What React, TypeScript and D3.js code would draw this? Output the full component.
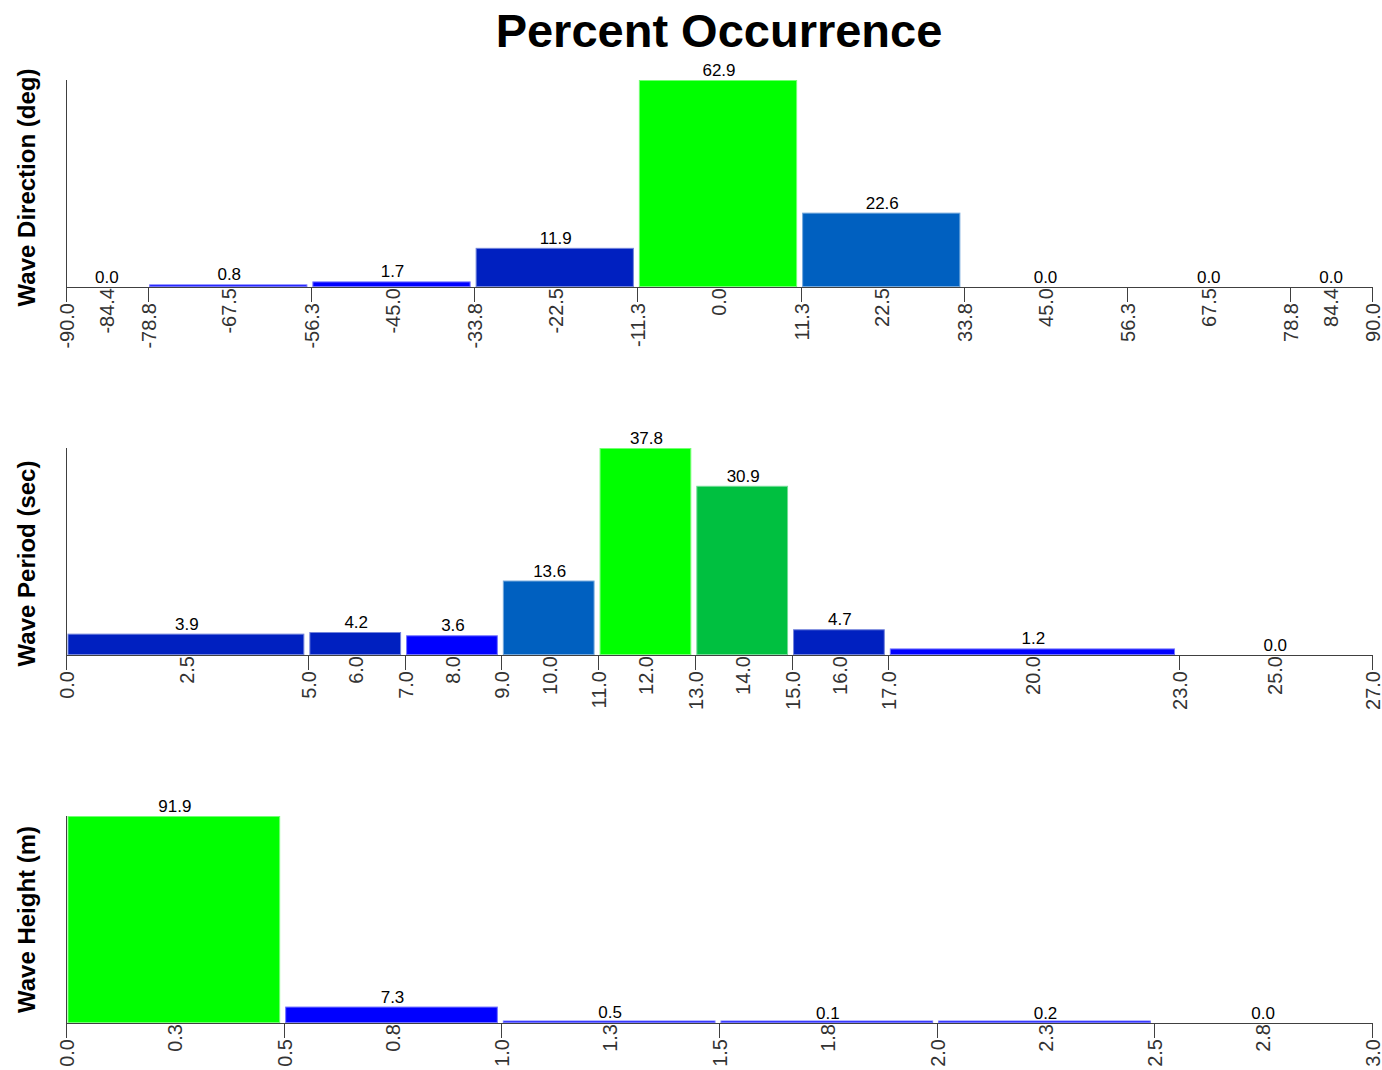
import React from "react";
import * as d3 from "d3";

// ---------- data ----------
const dirEdges = [-90, -78.75, -56.25, -33.75, -11.25, 11.25, 33.75, 56.25, 78.75, 90];
const dirEdgeLabels = ["-90.0", "-78.8", "-56.3", "-33.8", "-11.3", "11.3", "33.8", "56.3", "78.8", "90.0"];
const dirCenterLabels = ["-84.4", "-67.5", "-45.0", "-22.5", "0.0", "22.5", "45.0", "67.5", "84.4"];
const dirValues = [0.0, 0.8, 1.7, 11.9, 62.9, 22.6, 0.0, 0.0, 0.0];

const perEdges = [0, 5, 7, 9, 11, 13, 15, 17, 23, 27];
const perEdgeLabels = ["0.0", "5.0", "7.0", "9.0", "11.0", "13.0", "15.0", "17.0", "23.0", "27.0"];
const perCenterLabels = ["2.5", "6.0", "8.0", "10.0", "12.0", "14.0", "16.0", "20.0", "25.0"];
const perValues = [3.9, 4.2, 3.6, 13.6, 37.8, 30.9, 4.7, 1.2, 0.0];

const hgtEdges = [0, 0.5, 1.0, 1.5, 2.0, 2.5, 3.0];
const hgtEdgeLabels = ["0.0", "0.5", "1.0", "1.5", "2.0", "2.5", "3.0"];
const hgtCenterLabels = ["0.3", "0.8", "1.3", "1.8", "2.3", "2.8"];
const hgtValues = [91.9, 7.3, 0.5, 0.1, 0.2, 0.0];

const titleText = "Percent Occurrence";
const axisTitles = ["Wave Direction (deg)", "Wave Period (sec)", "Wave Height (m)"];

// colour by share of panel maximum
const colorThresholds = [0.1, 0.3, 0.6, 0.95];
const colorRange = ["#0000FF", "#0020C0", "#0060C0", "#00C040", "#00FF00"];

// ---------- layout ----------
const W = 1382;
const H = 1070;
const X0 = 66;
const X1 = 1372;
const PLOT_H = 207;
const panels = [
  { edges: dirEdges, edgeLabels: dirEdgeLabels, centerLabels: dirCenterLabels, values: dirValues, base: 287, title: axisTitles[0], titleDy: 4 },
  { edges: perEdges, edgeLabels: perEdgeLabels, centerLabels: perCenterLabels, values: perValues, base: 655, title: axisTitles[1], titleDy: 12 },
  { edges: hgtEdges, edgeLabels: hgtEdgeLabels, centerLabels: hgtCenterLabels, values: hgtValues, base: 1023, title: axisTitles[2], titleDy: 0 },
];

const FONT = "Arial, 'Liberation Sans', Helvetica, sans-serif";

function Panel({ p }: { p: (typeof panels)[number] }) {
  const x = d3.scaleLinear().domain([p.edges[0], p.edges[p.edges.length - 1]]).range([X0, X1]);
  const maxV = d3.max(p.values) as number;
  const y = d3.scaleLinear().domain([0, maxV]).range([p.base, p.base - PLOT_H]);
  const color = d3.scaleThreshold<number, string>().domain(colorThresholds).range(colorRange);
  const bins = p.values.map((v, i) => ({ v, a: p.edges[i], b: p.edges[i + 1], label: p.centerLabels[i] }));
  const top = p.base - PLOT_H;
  return (
    <g>
      {bins.map((d, i) => {
        const cx = x((d.a + d.b) / 2);
        return (
          <text key={"c" + i} transform={`translate(${cx},${p.base + 1}) rotate(-90)`} textAnchor="end" dy="0.35em"
            fontFamily={FONT} fontSize={20} fill="#333">{d.label}</text>
        );
      })}
      {bins.map((d, i) => {
        if (d.v <= 0) return null;
        const xa = x(d.a) + 1.5;
        const w = x(d.b) - x(d.a) - 5;
        const h = Math.max(p.base - y(d.v), 2.5);
        const c = color(d.v / maxV);
        const stroke = d3.interpolateRgb(c, "#ffffff")(0.45);
        return (
          <rect key={"b" + i} x={xa + 0.5} y={p.base - h + 0.5} width={w - 1} height={h - 1}
            fill={c} stroke={stroke} strokeWidth={1} />
        );
      })}
      {bins.map((d, i) => (
        <text key={"v" + i} x={x((d.a + d.b) / 2)} y={y(d.v) - 4} textAnchor="middle"
          fontFamily={FONT} fontSize={17} fill="#000">{d.v.toFixed(1)}</text>
      ))}
      <line x1={X0 + 0.5} x2={X0 + 0.5} y1={top} y2={p.base} stroke="#404040" strokeWidth={1} />
      <line x1={X0} x2={X1} y1={p.base + 0.5} y2={p.base + 0.5} stroke="#404040" strokeWidth={1} />
      {p.edges.map((e, i) => {
        const ex = Math.round(x(e)) + 0.5;
        return (
          <g key={"e" + i}>
            <line x1={ex} x2={ex} y1={p.base} y2={p.base + 15} stroke="#404040" strokeWidth={1} />
            <text transform={`translate(${ex},${p.base + 16}) rotate(-90)`} textAnchor="end" dy="0.35em"
              fontFamily={FONT} fontSize={20} fill="#333">{p.edgeLabels[i]}</text>
          </g>
        );
      })}
      <text transform={`translate(27,${(top + p.base) / 2 + p.titleDy}) rotate(-90)`} textAnchor="middle" dy="0.35em"
        fontFamily={FONT} fontSize={24} fontWeight="bold" fill="#000">{p.title}</text>
    </g>
  );
}

export default function App() {
  return (
    <svg width={W} height={H} style={{ position: "absolute", left: 0, top: 0, background: "#fff" }}>
      <rect x={0} y={0} width={W} height={H} fill="#fff" />
      <text x={(X0 + X1) / 2} y={47} textAnchor="middle" fontFamily={FONT} fontSize={47} fontWeight="bold" fill="#000">
        {titleText}
      </text>
      {panels.map((p, i) => (
        <Panel key={i} p={p} />
      ))}
    </svg>
  );
}
